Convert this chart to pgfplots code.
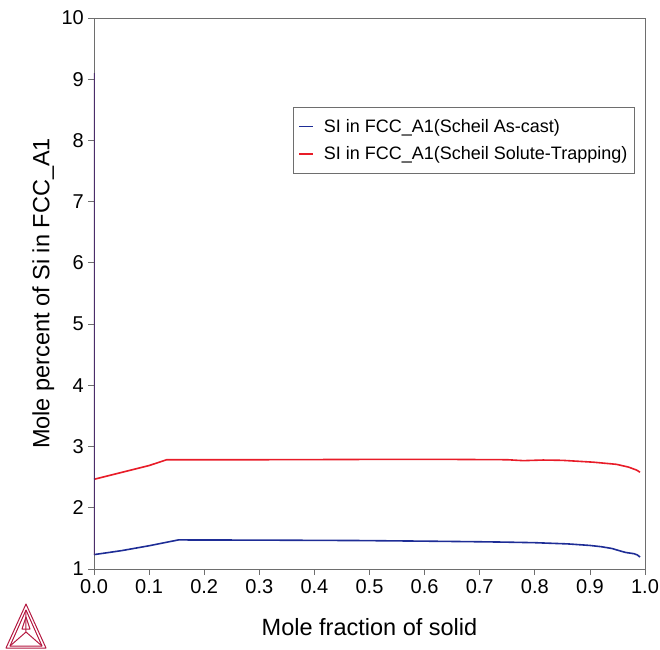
\documentclass[border=0pt]{standalone}
\usepackage{pgfplots}
\pgfplotsset{compat=1.18}
\usepackage{fontspec}
\setmainfont{Liberation Sans}
\definecolor{cblue}{RGB}{30,45,150}
\definecolor{cred}{RGB}{232,28,40}
\definecolor{cpurp}{RGB}{75,45,105}
\definecolor{logo}{RGB}{180,25,65}
\definecolor{axgray}{RGB}{110,110,110}
\begin{document}
\begin{tikzpicture}[x=1pt,y=1pt]
\path[use as bounding box] (-94,-80) rectangle (566,569);
\begin{axis}[
  at={(0,0)}, anchor=origin,
  scale only axis, width=551pt, height=551pt,
  xmin=0, xmax=1, ymin=1, ymax=10,
  xtick={0,0.1,...,1.0}, ytick={1,2,...,10},
  /pgf/number format/assume math mode=true,
  xticklabel style={/pgf/number format/fixed,/pgf/number format/fixed zerofill,/pgf/number format/precision=1, font=\fontsize{20}{20}\selectfont, inner sep=2pt, yshift=-2pt},
  yticklabel style={font=\fontsize{20}{20}\selectfont, inner sep=2pt, xshift=-2pt},
  tick align=outside, major tick length=6pt,
  xtick pos=bottom, ytick pos=left,
  tick style={axgray, line width=0.8pt},
  axis line style={axgray, line width=0.9pt},
  xlabel={Mole fraction of solid},
  ylabel={Mole percent of Si in FCC\_A1},
  xlabel style={at={(axis description cs:0.5,-0.105)}, anchor=center, font=\fontsize{23.5}{23.5}\selectfont},
  ylabel style={at={(axis description cs:-0.092,0.5)}, anchor=center, font=\fontsize{23.5}{23.5}\selectfont},
  legend style={at={(axis cs:0.361,8.55)}, anchor=north west, draw=axgray, line width=0.8pt, font=\fontsize{18}{18}\selectfont, inner xsep=5pt, inner ysep=10pt, row sep=9pt, legend cell align=left},
  legend image code/.code={\draw[#1, line width=1.5pt] (0pt,0pt) -- (14pt,0pt); \path (22pt,0pt);},
]
\addplot[cblue, line width=1.6pt] coordinates {
(0,1.235) (0.05,1.30) (0.1,1.38) (0.153,1.475) (0.3,1.472) (0.48,1.465) (0.6,1.455) (0.7,1.445) (0.74,1.44) (0.8,1.43) (0.86,1.41) (0.9,1.385) (0.92,1.365) (0.94,1.335) (0.955,1.295) (0.965,1.27) (0.98,1.25) (0.986,1.23) (0.991,1.195)
};
\addlegendentry{SI in FCC\_A1(Scheil As-cast)}
\addplot[cred, line width=1.6pt] coordinates {
(0,2.465) (0.06,2.60) (0.1,2.69) (0.132,2.785) (0.3,2.785) (0.5,2.79) (0.65,2.79) (0.75,2.785) (0.779,2.77) (0.815,2.78) (0.85,2.775) (0.906,2.745) (0.948,2.71) (0.97,2.665) (0.985,2.615) (0.991,2.58)
};
\addlegendentry{SI in FCC\_A1(Scheil Solute-Trapping)}
\addplot[cpurp, line width=1.1pt, forget plot] coordinates {(0,1.235) (0,9.1)};
\end{axis}
\begin{scope}[logo, line width=1pt, line join=round]
\draw (-88,-79) -- (-48,-79) -- (-68,-35) -- cycle;
\draw (-84,-77) -- (-52,-77) -- (-68,-41) -- cycle;
\draw (-68,-41) -- (-68,-63) -- (-84,-77);
\draw (-68,-63) -- (-52,-77);
\draw (-72,-60) -- (-64,-60) -- (-68,-48) -- cycle;
\end{scope}
\end{tikzpicture}
\end{document}
